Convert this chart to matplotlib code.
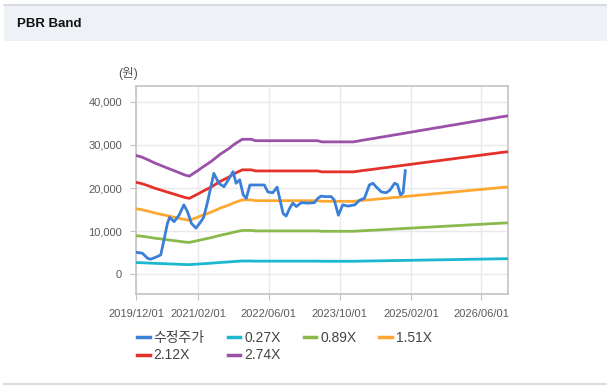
import matplotlib
matplotlib.use("Agg")
import matplotlib.pyplot as plt
import matplotlib.ticker as ticker
from matplotlib.patches import Rectangle
from matplotlib.lines import Line2D
import pandas as pd

plt.rcParams['font.family'] = ['Liberation Sans', 'Noto Sans CJK KR', 'DejaVu Sans']

TITLE = "PBR Band"
UNIT = "(원)"

# monthly book value per share behind the bands (won), 2019/12 .. 2026/12
band_months = pd.date_range("2019-12-01", "2026-12-01", freq="MS")
bps = [10050, 9950, 9800, 9640, 9450, 9300, 9150, 9000, 8850, 8700, 8550, 8400, 8300,
       8550, 8800, 9050, 9300, 9550, 9850, 10150, 10400, 10650, 10950, 11200, 11420,
       11420, 11420, 11300, 11300, 11300, 11300, 11300, 11300, 11300, 11300, 11300,
       11300, 11300, 11300, 11300, 11300, 11300, 11200, 11200, 11200, 11200, 11200,
       11200, 11200, 11200, 11260, 11330, 11390, 11450, 11510, 11580, 11640, 11700,
       11770, 11830, 11890, 11960, 12020, 12080, 12150, 12210, 12270, 12340, 12400,
       12460, 12530, 12590, 12650, 12720, 12780, 12840, 12910, 12970, 13030, 13100,
       13160, 13220, 13290, 13350, 13400]
multiples = [0.27, 0.89, 1.51, 2.12, 2.74]
band_labels = ["0.27X", "0.89X", "1.51X", "2.12X", "2.74X"]
band_colors = ["#1bb8cf", "#8aba4c", "#ffa733", "#e4322b", "#9b50a9"]

price_label = "수정주가"
price_color = "#3a7fd8"
price_dates = ["2019-12-01", "2020-01-13", "2020-02-19", "2020-03-10", "2020-04-25",
               "2020-05-19", "2020-06-10", "2020-07-04", "2020-07-19", "2020-08-19",
               "2020-09-22", "2020-10-25", "2020-11-19", "2020-12-16", "2021-01-16",
               "2021-02-19", "2021-03-10", "2021-04-04", "2021-05-19", "2021-06-22",
               "2021-07-28", "2021-09-01", "2021-09-28", "2021-10-19", "2021-11-13",
               "2021-12-07", "2021-12-28", "2022-01-22", "2022-05-01", "2022-05-25",
               "2022-06-28", "2022-07-28", "2022-08-22", "2022-09-07", "2022-09-28",
               "2022-10-22", "2022-11-13", "2022-12-07", "2023-01-10", "2023-02-28",
               "2023-04-10", "2023-05-04", "2023-05-25", "2023-06-28", "2023-08-04",
               "2023-08-25", "2023-09-22", "2023-10-22", "2023-11-28", "2024-01-13",
               "2024-02-16", "2024-03-19", "2024-04-22", "2024-05-16", "2024-06-07",
               "2024-07-13", "2024-08-16", "2024-09-10", "2024-10-13", "2024-11-01",
               "2024-11-22", "2024-12-10", "2024-12-25"]
price = [5100, 4900, 3700, 3500, 4100, 4500, 7900, 11800, 13200, 12200,
         13700, 16100, 14500, 11800, 10700, 12200, 13200, 16500, 23400, 21100,
         20300, 22200, 23800, 21100, 21900, 18400, 17600, 20700, 20700, 19100,
         18900, 20200, 16500, 14100, 13500, 15300, 16500, 15700, 16600, 16500,
         16600, 17600, 18100, 18000, 18000, 17200, 13700, 16100, 15800, 16100,
         17200, 17600, 20700, 21100, 20300, 19100, 18900, 19500, 21100, 20800,
         18400, 18900, 24000]

tick_dates = ["2019-12-01", "2021-02-01", "2022-06-01", "2023-10-01", "2025-02-01", "2026-06-01"]
y_ticks = [0, 10000, 20000, 30000, 40000]

W, H = 607, 391
fig = plt.figure(figsize=(W / 100, H / 100), dpi=100)
fig.patch.set_facecolor("white")

# header band
fig.add_artist(Rectangle((4 / W, 1 - 40.5 / H), 1, 35.5 / H, transform=fig.transFigure,
                         facecolor="#eef2f7", edgecolor="none"))
fig.add_artist(Line2D([4 / W, 1], [1 - 5 / H, 1 - 5 / H], transform=fig.transFigure,
                      color="#d3d6db", lw=1.2))
fig.add_artist(Line2D([4 / W, 1], [1 - 383.5 / H, 1 - 383.5 / H], transform=fig.transFigure,
                      color="#d3d3d3", lw=1.2))
fig.text(17 / W, 1 - 24 / H, TITLE, fontsize=9.5, fontweight="bold", color="#111111",
         ha="left", va="center")

ax = fig.add_axes([136 / W, 1 - 294 / H, (508 - 136) / W, (294 - 86) / H])

ax.plot(pd.to_datetime(price_dates), price, color=price_color, lw=2, label=price_label, zorder=5)
for m, lab, col in zip(multiples, band_labels, band_colors):
    ax.plot(band_months, [b * m for b in bps], color=col, lw=2, label=lab, zorder=3)

ax.set_xlim(band_months[0], band_months[-1])
ax.set_ylim(-4565, 43640)
ax.set_yticks(y_ticks)
ax.yaxis.set_major_formatter(ticker.FuncFormatter(lambda v, p: "{:,}".format(int(v))))
ticks = pd.to_datetime(tick_dates)
ax.set_xticks(ticks)
ax.set_xticklabels([t.strftime("%Y/%m/%d") for t in ticks])

ax.grid(True, color="#e9e9e9", lw=1)
ax.set_axisbelow(True)
for s in ax.spines.values():
    s.set_color("#c4c4c4")
    s.set_linewidth(1.2)
ax.tick_params(axis="both", colors="#c4c4c4", labelcolor="#5a5a5a", labelsize=8, length=4)
ax.tick_params(axis="y", pad=6)
ax.tick_params(axis="x", pad=7)

fig.text(128 / W, 1 - 73 / H, UNIT, fontsize=9, color="#555555", ha="center", va="center")

# legend is filled column by column, so reorder to read row by row
handles, labels = ax.get_legend_handles_labels()
order = [0, 4, 1, 5, 2, 3]
leg = fig.legend([handles[i] for i in order], [labels[i] for i in order],
                 loc="upper left", bbox_to_anchor=(137 / W, 1 - 331 / H),
                 ncol=4, frameon=False, fontsize=10, handlelength=0.9, handletextpad=0.3,
                 columnspacing=1.65, labelspacing=0.25, borderpad=0, borderaxespad=0)
for t in leg.get_texts():
    t.set_color("#444444")
for h in leg.get_lines():
    h.set_linewidth(2.5)

fig.savefig("out.png", dpi=100)
